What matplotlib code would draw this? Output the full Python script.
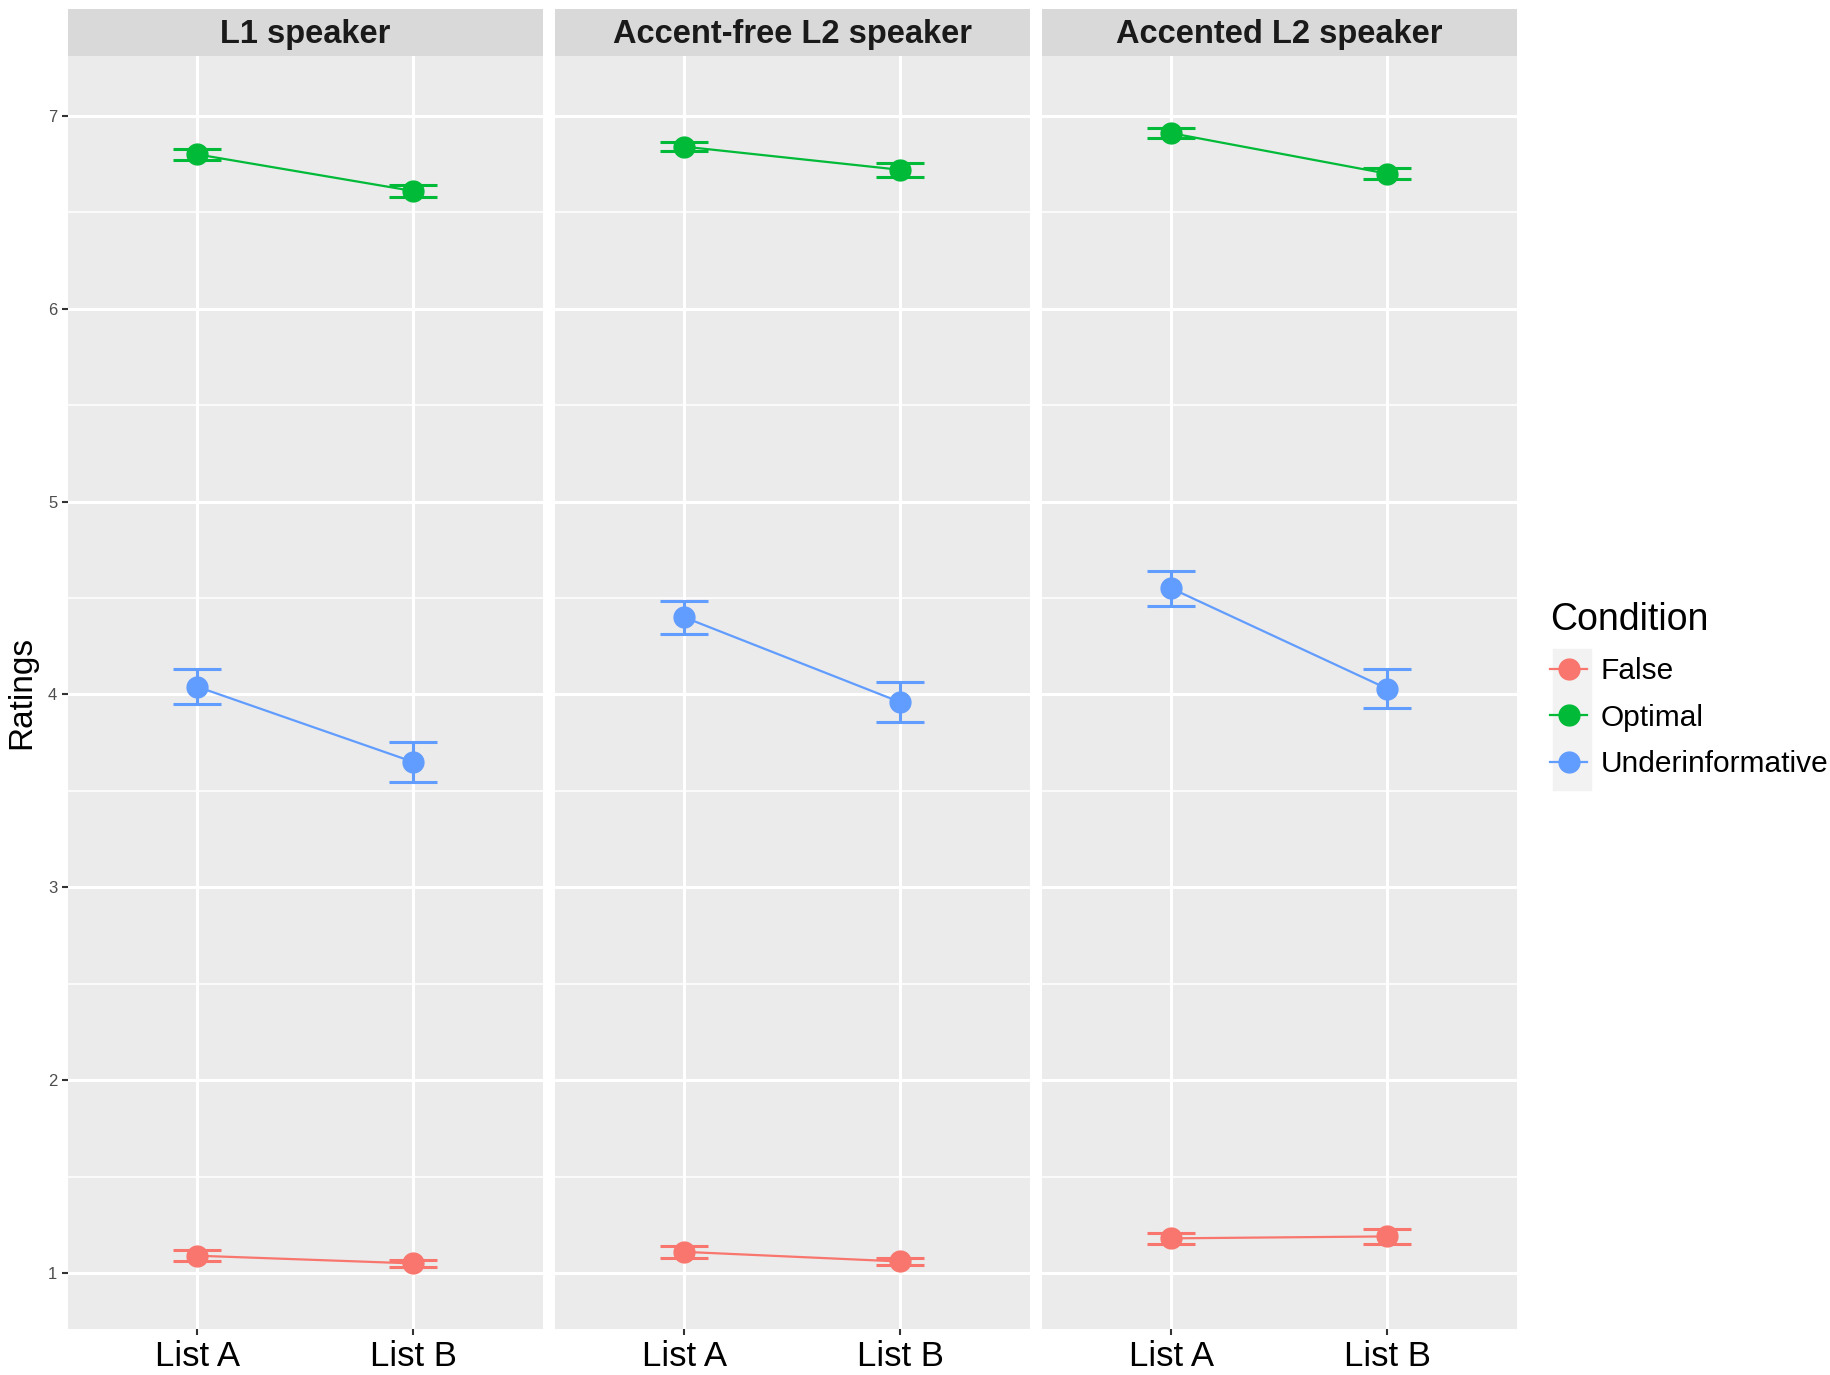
import numpy as np
import matplotlib.pyplot as plt
from matplotlib.lines import Line2D
from matplotlib.patches import Rectangle

plt.rcParams['font.family'] = ['Liberation Sans', 'DejaVu Sans']

# data
panels = ['L1 speaker', 'Accent-free L2 speaker', 'Accented L2 speaker']
lists = ['List A', 'List B']
conditions = ['False', 'Optimal', 'Underinformative']
colors = ['#F8766D', '#00BA38', '#619CFF']

# mean ratings [panel][condition] -> (List A, List B)
false_means = [[1.09, 1.05], [1.11, 1.06], [1.18, 1.19]]
optimal_means = [[6.80, 6.61], [6.84, 6.72], [6.91, 6.70]]
under_means = [[4.04, 3.65], [4.40, 3.96], [4.55, 4.03]]

# standard errors
false_se = [[0.03, 0.02], [0.03, 0.02], [0.03, 0.04]]
optimal_se = [[0.03, 0.03], [0.025, 0.035], [0.025, 0.03]]
under_se = [[0.09, 0.105], [0.085, 0.105], [0.09, 0.10]]

means = [false_means, optimal_means, under_means]
ses = [false_se, optimal_se, under_se]

W, H = 1831, 1375
fig = plt.figure(figsize=(W / 100, H / 100), dpi=100)

left = 67.7 / W
pw = 475 / W
gap = 12 / W
bottom = 1 - 1329 / H
ptop = 1 - 56 / H
stop = 1 - 9.3 / H

x = np.arange(len(lists))
for i, name in enumerate(panels):
    x0 = left + i * (pw + gap)
    ax = fig.add_axes([x0, bottom, pw, ptop - bottom])
    ax.set_facecolor('#EBEBEB')
    for s in ax.spines.values():
        s.set_visible(False)
    ax.set_xlim(-0.6, 1.6)
    ax.set_ylim(0.71, 7.31)
    ax.set_yticks(range(1, 8))
    ax.set_yticks(np.arange(1.5, 7.0, 1.0), minor=True)
    ax.set_xticks(x)
    ax.set_xticklabels(lists, fontsize=25)
    ax.grid(True, which='major', color='white', lw=2.2)
    ax.grid(True, which='minor', axis='y', color='white', lw=1.1)
    ax.set_axisbelow(True)
    ax.tick_params(axis='x', length=4, width=1.5, color='#333333', pad=4)
    ax.tick_params(axis='y', which='major', length=4, width=1.5,
                   color='#333333', labelsize=12, labelcolor='#4D4D4D')
    ax.tick_params(axis='y', which='minor', length=0)
    if i > 0:
        ax.tick_params(axis='y', which='major', length=0, labelleft=False)
    else:
        ax.set_ylabel('Ratings', fontsize=24, labelpad=8)
    for c in range(len(conditions)):
        m = means[c][i]
        e = ses[c][i]
        ax.plot(x, m, color=colors[c], lw=1.6, zorder=2)
        ax.errorbar(x, m, yerr=e, fmt='none', ecolor=colors[c],
                    elinewidth=2.2, capsize=17, capthick=2.2, zorder=3)
        ax.plot(x, m, 'o', color=colors[c], ms=15, zorder=4)

    sax = fig.add_axes([x0, ptop, pw, stop - ptop])
    sax.set_facecolor('#D9D9D9')
    sax.set_xticks([])
    sax.set_yticks([])
    for s in sax.spines.values():
        s.set_visible(False)
    sax.text(0.5, 0.45, name, transform=sax.transAxes, ha='center',
             va='center', fontsize=23.5, fontweight='bold', color='#1A1A1A')

# legend
fig.patches.append(Rectangle((1553 / W, 1 - 790 / H), 38 / W, 141 / H,
                             transform=fig.transFigure, color='#F2F2F2',
                             zorder=0))
handles = [Line2D([], [], color=c, marker='o', ms=15, lw=1.6) for c in colors]
leg = fig.legend(handles, conditions, loc='upper left',
                 bbox_to_anchor=(1523 / W, 1 - 575 / H), frameon=False,
                 title='Condition', fontsize=21.5, title_fontsize=27,
                 handlelength=1.25, handletextpad=0.45, labelspacing=0.62,
                 borderaxespad=0.5)
leg._legend_box.align = 'left'
leg._legend_box.sep = 14

fig.savefig('out.png', dpi=100)
